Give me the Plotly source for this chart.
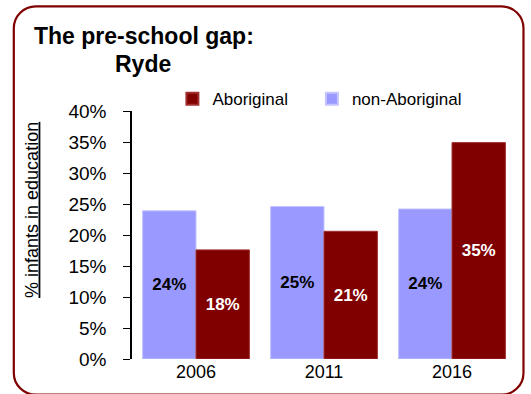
import plotly.graph_objects as go

years = ["2006", "2011", "2016"]
non_aboriginal = [23.9, 24.6, 24.2]
aboriginal = [17.6, 20.6, 34.9]
y_ticks = [0, 5, 10, 15, 20, 25, 30, 35, 40]
y_tick_labels = ["0%", "5%", "10%", "15%", "20%", "25%", "30%", "35%", "40%"]

W, H = 531, 394
L, R, T, B = 131.5, 14.5, 111, 33
PW, PH = W - L - R, H - T - B

def px(x):
    return (x - L) / PW

def py(y):
    return (H - B - y) / PH

FONT = "Liberation Sans, Arial, Helvetica, sans-serif"
DARK = "#800000"
LIGHT = "#9999FF"
NB = "\u00a0"

fig = go.Figure()
fig.add_trace(go.Bar(
    x=years, y=non_aboriginal, name="non-Aboriginal",
    marker=dict(color=LIGHT, line=dict(width=1, color="#c4c4ff")),
    texttemplate="<b>%{y:.0f}%</b>", textposition="inside",
    insidetextanchor="middle", textangle=0,
    textfont=dict(color="black", size=17, family=FONT),
    legendrank=2,
))
fig.add_trace(go.Bar(
    x=years, y=aboriginal, name="Aboriginal" + NB * 4,
    marker=dict(color=DARK, line=dict(width=1, color="#a03030")),
    texttemplate="<b>%{y:.0f}%</b>", textposition="inside",
    insidetextanchor="middle", textangle=0,
    textfont=dict(color="white", size=17, family=FONT),
    legendrank=1,
))

# rounded border (pixel coords converted to paper)
x0, x1, y0, y1, r = 13, 524, 5.5, 397, 22
k = 0.5523 * r
pts = [
    f"M{px(x0)},{py(y0 + r)}",
    f"C{px(x0)},{py(y0 + r - k)} {px(x0 + r - k)},{py(y0)} {px(x0 + r)},{py(y0)}",
    f"L{px(x1 - r)},{py(y0)}",
    f"C{px(x1 - r + k)},{py(y0)} {px(x1)},{py(y0 + r - k)} {px(x1)},{py(y0 + r)}",
    f"L{px(x1)},{py(y1 - r)}",
    f"C{px(x1)},{py(y1 - r + k)} {px(x1 - r + k)},{py(y1)} {px(x1 - r)},{py(y1)}",
    f"L{px(x0 + r)},{py(y1)}",
    f"C{px(x0 + r - k)},{py(y1)} {px(x0)},{py(y1 - r + k)} {px(x0)},{py(y1 - r)}",
    "Z",
]
fig.add_shape(type="path", path=" ".join(pts), xref="paper", yref="paper",
              line=dict(color=DARK, width=2.2), layer="above")

fig.add_annotation(text="<b>The pre-school gap:</b>", xref="paper", yref="paper",
                   x=px(144), y=py(35.2), xanchor="center", yanchor="middle",
                   showarrow=False, font=dict(size=23, color="black", family=FONT))
fig.add_annotation(text="<b>Ryde</b>", xref="paper", yref="paper",
                   x=px(143), y=py(63.7), xanchor="center", yanchor="middle",
                   showarrow=False, font=dict(size=23, color="black", family=FONT))
fig.add_annotation(text="<u>% infants in education</u>", xref="paper", yref="paper",
                   x=px(31), y=py(211), xanchor="center", yanchor="middle",
                   textangle=-90, showarrow=False,
                   font=dict(size=18, color="black", family=FONT))

fig.update_layout(
    width=W, height=H,
    margin=dict(l=L, r=R, t=T, b=B, pad=0),
    paper_bgcolor="white", plot_bgcolor="white",
    barmode="group", bargap=0.166, bargroupgap=0,
    font=dict(family=FONT, color="black", size=18),
    showlegend=True,
    legend=dict(orientation="h", x=px(172), y=py(99), xanchor="left", yanchor="middle",
                font=dict(size=17, family=FONT), bgcolor="rgba(0,0,0,0)",
                itemsizing="constant"),
    xaxis=dict(showline=False, ticks="", tickfont=dict(size=18), showgrid=False),
    yaxis=dict(range=[0, 40], tickvals=y_ticks, ticktext=y_tick_labels, showgrid=False,
               zeroline=False, showline=True, linecolor="black", linewidth=1.5,
               ticks="outside", ticklen=7, tickcolor="black", tickwidth=1,
               tickfont=dict(size=19), ticklabelstandoff=13),
)

fig.write_html("out.html", config={"displayModeBar": False},
               post_script="document.body.style.margin='0';document.body.style.overflow='hidden';")
